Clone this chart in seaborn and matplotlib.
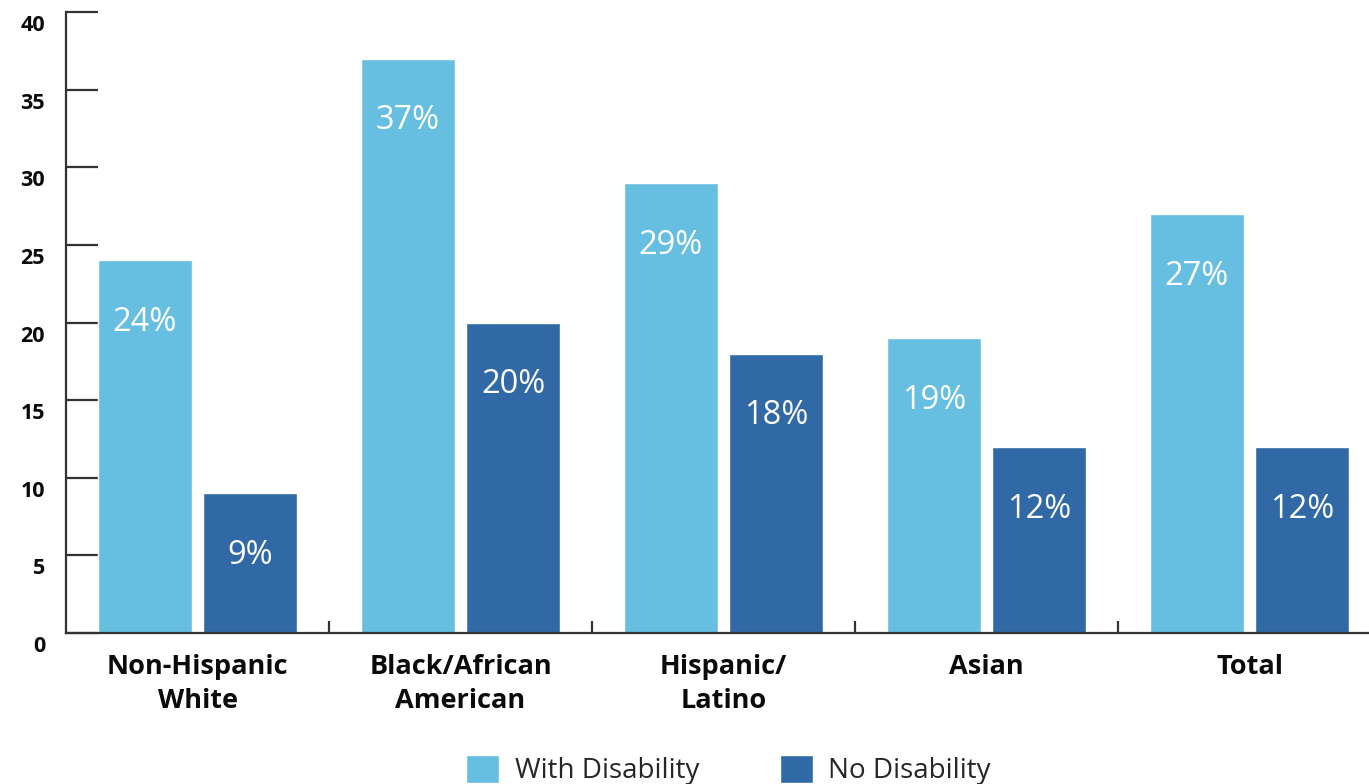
import matplotlib
matplotlib.use("Agg")
import matplotlib.pyplot as plt
import matplotlib.transforms as mtransforms
import seaborn as sns
import pandas as pd

categories = ["Non-Hispanic\nWhite", "Black/African\nAmerican", "Hispanic/\nLatino", "Asian", "Total"]
with_disability = [24, 37, 29, 19, 27]
no_disability = [9, 20, 18, 12, 12]
series_names = ["With Disability", "No Disability"]
colors = ["#66BFE0", "#3069A5"]
y_ticks = [0, 5, 10, 15, 20, 25, 30, 35, 40]

df = pd.DataFrame({
    "Group": categories * 2,
    "Status": [series_names[0]] * len(categories) + [series_names[1]] * len(categories),
    "Value": with_disability + no_disability,
})

sns.set_theme(style="white")
plt.rcParams["font.family"] = ["Open Sans", "DejaVu Sans"]

W, H, DPI = 1369, 784, 100
fig = plt.figure(figsize=(W / DPI, H / DPI), dpi=DPI)
ax = fig.add_axes([66 / W, 1 - 633 / H, 1315 / W, 621 / H])

sns.barplot(data=df, x="Group", y="Value", hue="Status", order=categories,
            hue_order=series_names, palette=colors, width=0.8, gap=0.1,
            saturation=1, ax=ax, legend=True)

ax.set_xlim(-0.5, 4.5)
ax.set_ylim(0, 40)
ax.set_xlabel("")
ax.set_ylabel("")

for s in ["top", "right"]:
    ax.spines[s].set_visible(False)
for s in ["left", "bottom"]:
    ax.spines[s].set_color("#333333")
    ax.spines[s].set_linewidth(1.6)

ax.set_yticks(y_ticks)
ax.set_yticklabels([str(t) for t in y_ticks], fontsize=15.5, fontweight="bold", color="#0a0a0a")
ax.tick_params(axis="y", direction="in", length=23, width=1.6, color="#333333", pad=15, left=True)
offset = mtransforms.ScaledTranslation(0, -11 / DPI, fig.dpi_scale_trans)
for lab in ax.get_yticklabels():
    lab.set_transform(lab.get_transform() + offset)

ax.set_xticks(range(len(categories)))
ax.set_xticklabels(categories, fontsize=19.5, fontweight="bold", color="#0a0a0a")
ax.tick_params(axis="x", which="major", length=0, pad=15)
for lab in ax.get_xticklabels():
    lab.set_linespacing(1.4)
ax.set_xticks([0.5, 1.5, 2.5, 3.5], minor=True)
ax.tick_params(axis="x", which="minor", direction="in", length=9, width=1.6, color="#333333", bottom=True)

for cont in ax.containers:
    for bar in cont:
        h = bar.get_height()
        ax.annotate(f"{h:.0f}%", xy=(bar.get_x() + bar.get_width() / 2, h),
                    xytext=(0, -51), textcoords="offset points",
                    ha="center", va="baseline", color="white", fontsize=23.5)

handles, labels = ax.get_legend_handles_labels()
ax.get_legend().remove()
fig.legend(handles, labels, loc="center", bbox_to_anchor=(0.532, 0.018),
           ncol=2, frameon=False, fontsize=20, handlelength=1.2, handleheight=1.2,
           handletextpad=0.55, columnspacing=2.9, borderaxespad=0)

fig.savefig("out.png", dpi=DPI)
